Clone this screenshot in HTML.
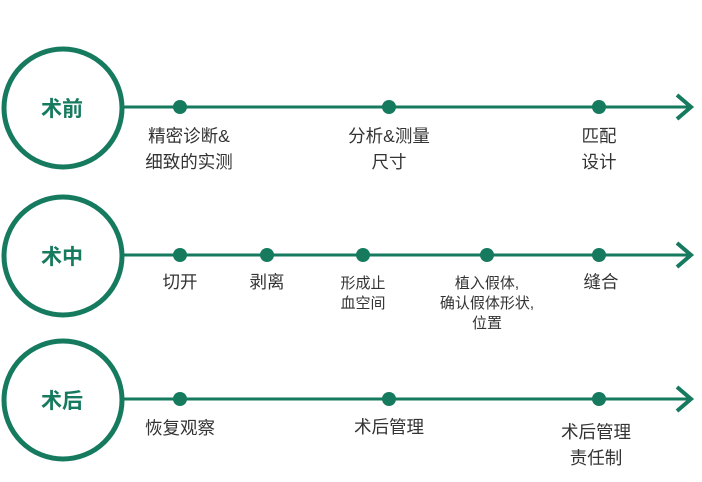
<!DOCTYPE html>
<html><head><meta charset="utf-8"><style>
html,body{margin:0;padding:0;background:#fff;}
svg{display:block}
text{font-family:"Liberation Sans","Noto Sans CJK SC",sans-serif;fill:#333;text-anchor:middle}
.t{font-size:17.5px}
.s{font-size:15px}
.c{font-size:21px;fill:#167a5e;font-weight:bold}
</style></head><body>
<svg width="702" height="482" viewBox="0 0 702 482">
<g stroke="#167a5e" fill="none">
<circle cx="63" cy="108" r="59" stroke-width="5"/>
<circle cx="63" cy="256" r="59" stroke-width="5"/>
<circle cx="63" cy="400" r="59" stroke-width="5"/>
<line x1="122" y1="107" x2="691" y2="107" stroke-width="3"/>
<line x1="122" y1="255" x2="691" y2="255" stroke-width="3"/>
<line x1="122" y1="399" x2="691" y2="399" stroke-width="3"/>
<polyline points="677,95 691,107 677,119" stroke-width="4"/>
<polyline points="677,243 691,255 677,267" stroke-width="4"/>
<polyline points="677,387 691,399 677,411" stroke-width="4"/>
</g>
<g fill="#167a5e">
<circle cx="180" cy="107" r="7"/><circle cx="389" cy="107" r="7"/><circle cx="599" cy="107" r="7"/>
<circle cx="180" cy="255" r="7"/><circle cx="267" cy="255" r="7"/><circle cx="363" cy="255" r="7"/><circle cx="487" cy="255" r="7"/><circle cx="599" cy="255" r="7"/>
<circle cx="180" cy="399" r="7"/><circle cx="389" cy="399" r="7"/><circle cx="599" cy="399" r="7"/>
</g>
<text class="c" x="62" y="116">术前</text>
<text class="c" x="62" y="264">术中</text>
<text class="c" x="62" y="408">术后</text>
<text class="t" x="189" y="142">精密诊断&amp;</text>
<text class="t" x="189" y="168">细致的实测</text>
<text class="t" x="389" y="142">分析&amp;测量</text>
<text class="t" x="389" y="168">尺寸</text>
<text class="t" x="599" y="142">匹配</text>
<text class="t" x="599" y="168">设计</text>
<text class="t" x="180" y="288">切开</text>
<text class="t" x="267" y="288">剥离</text>
<text class="s" x="363" y="288">形成止</text>
<text class="s" x="363" y="308">血空间</text>
<text class="s" x="487" y="288">植入假体,</text>
<text class="s" x="487" y="308">确认假体形状,</text>
<text class="s" x="487" y="328">位置</text>
<text class="t" x="601" y="288">缝合</text>
<text class="t" x="180" y="434">恢复观察</text>
<text class="t" x="389" y="433">术后管理</text>
<text class="t" x="596" y="438">术后管理</text>
<text class="t" x="596" y="464">责任制</text>
</svg>
</body></html>
